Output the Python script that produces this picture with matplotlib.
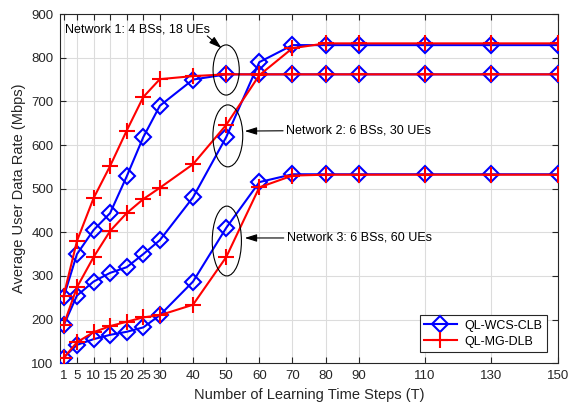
import numpy as np
import matplotlib
matplotlib.use('Agg')
from matplotlib import pyplot as plt
from matplotlib.patches import Ellipse

plt.rcParams['font.family'] = ['Liberation Sans', 'DejaVu Sans']
plt.rcParams['font.size'] = 9.5

# ---- data
steps = [1, 5, 10, 15, 20, 25, 30, 40, 50, 60, 70, 80, 90, 110, 130, 150]

# Network 1: 4 BSs, 18 UEs
wcs_net1 = [252, 350, 405, 444, 528, 618, 690, 750, 762, 762, 762, 762, 762, 762, 762, 762]
mg_net1 = [255, 380, 478, 552, 633, 710, 751, 758, 762, 762, 762, 762, 762, 762, 762, 762]

# Network 2: 6 BSs, 30 UEs
wcs_net2 = [187, 255, 287, 307, 320, 350, 382, 480, 618, 790, 829, 829, 829, 829, 829, 829]
mg_net2 = [188, 274, 343, 403, 444, 476, 502, 556, 646, 760, 822, 833, 833, 833, 833, 833]

# Network 3: 6 BSs, 60 UEs
wcs_net3 = [113, 142, 155, 165, 172, 182, 210, 287, 410, 515, 533, 533, 533, 533, 533, 533]
mg_net3 = [112, 148, 171, 185, 195, 205, 210, 234, 343, 503, 530, 532, 532, 532, 532, 532]

labels = ['QL-WCS-CLB', 'QL-MG-DLB']


def plot_pair(ax, x, yb, yr, label=True):
    ax.plot(x, yb, color='b', lw=1.5, marker='D', ms=8, mfc='none', mec='b',
            mew=1.5, label=labels[0] if label else None, zorder=3)
    ax.plot(x, yr, color='r', lw=1.5, marker='+', ms=11, mew=1.5,
            label=labels[1] if label else None, zorder=4)


fig = plt.figure(figsize=(5.75, 4.04), dpi=100)
ax = fig.add_axes([0.105, 0.101, 0.865, 0.864])

plot_pair(ax, steps, wcs_net1, mg_net1)
plot_pair(ax, steps, wcs_net2, mg_net2, label=False)
plot_pair(ax, steps, wcs_net3, mg_net3, label=False)

ax.set_xlim(0, 150)
ax.set_ylim(100, 900)
ax.set_xticks(steps)
ax.set_yticks(np.arange(100, 901, 100))
ax.grid(True, color='#dcdcdc', lw=0.8)
ax.set_axisbelow(True)
ax.tick_params(direction='in', top=True, right=True, length=4, colors='#262626',
               labelsize=9.5, pad=5)
for s in ax.spines.values():
    s.set_color('#262626')
    s.set_linewidth(0.8)

ax.set_xlabel('Number of Learning Time Steps (T)', fontsize=10.5, color='#262626')
ax.set_ylabel('Average User Data Rate (Mbps)', fontsize=10.5, color='#262626')

# ---- ellipses and annotations
ellipses = [(50, 772, 7.9, 115), (50.5, 621, 9, 142), (50.2, 380, 8.8, 160)]
for cx, cy, w, h in ellipses:
    ax.add_patch(Ellipse((cx, cy), w, h, fill=False, ec='k', lw=0.8, zorder=5))

arr = dict(arrowstyle='-|>,head_length=0.8,head_width=0.25', color='k', lw=0.8,
           shrinkA=0, shrinkB=0)
ax.text(1.5, 864, 'Network 1: 4 BSs, 18 UEs', va='center', ha='left', fontsize=9)
ax.annotate('', xy=(48.6, 822), xytext=(44.3, 850), arrowprops=arr)
ax.annotate('Network 2: 6 BSs, 30 UEs', xy=(55.6, 632), xytext=(68, 634),
            va='center', ha='left', fontsize=9, arrowprops=arr)
ax.annotate('Network 3: 6 BSs, 60 UEs', xy=(55.6, 387), xytext=(68.2, 387),
            va='center', ha='left', fontsize=9, arrowprops=arr)

leg = ax.legend(loc='lower right', fontsize=9, handlelength=2.6, fancybox=False,
                edgecolor='#262626', framealpha=1, borderaxespad=0.9,
                borderpad=0.35, labelspacing=0.3, handletextpad=0.6)
leg.get_frame().set_linewidth(0.8)

plt.savefig('out.png', dpi=100)
